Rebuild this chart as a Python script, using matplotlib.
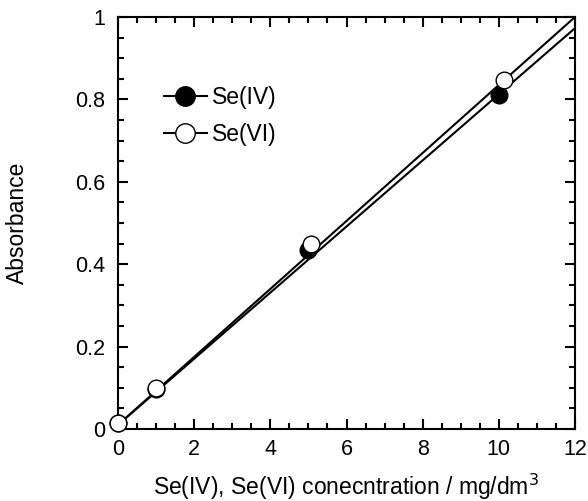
#!/usr/bin/env python3
"""Calibration plot: absorbance vs Se(IV)/Se(VI) concentration."""

import matplotlib
matplotlib.use("Agg")
import matplotlib.pyplot as plt
from matplotlib.ticker import MultipleLocator

plt.rcParams["font.family"] = ["Liberation Sans", "DejaVu Sans"]

# measured points
conc_iv = [0, 1, 5, 10]
abs_iv = [0.015, 0.097, 0.434, 0.81]
conc_vi = [0, 1.01, 5.06, 10.13]
abs_vi = [0.015, 0.099, 0.449, 0.847]

# regression lines (end points)
fit_x = [0, 12]
fit_iv = [0.01, 0.973]
fit_vi = [0.01, 1.0]

FS = 16.5       # axis labels / legend
FS_TICK = 15.5  # tick labels


def main():
    fig = plt.figure(figsize=(5.88, 5.01), dpi=100)
    ax = fig.add_axes([118 / 588, 72 / 501, 457 / 588, 412 / 501])

    ax.plot(fit_x, fit_iv, color="black", lw=1.5, zorder=2)
    ax.plot(fit_x, fit_vi, color="black", lw=1.5, zorder=2)
    ax.plot(conc_iv, abs_iv, "o", ms=12, mfc="black", mec="black",
            mew=1, zorder=3, clip_on=False)
    ax.plot(conc_vi, abs_vi, "o", ms=12, mfc="white", mec="black",
            mew=1, zorder=4, clip_on=False)

    # legend entries: marker with short line through it
    h_iv, = ax.plot([], [], "-o", color="black", lw=1.5, ms=14,
                    mfc="black", mec="black", mew=1)
    h_vi, = ax.plot([], [], "-o", color="black", lw=1.5, ms=14,
                    mfc="white", mec="black", mew=1)
    ax.legend([h_iv, h_vi], ["Se(IV)", "Se(VI)"], loc="upper left",
              bbox_to_anchor=(0.1, 0.832), frameon=False, fontsize=FS,
              handlelength=1.9, handletextpad=0.2, labelspacing=0.62,
              borderpad=0, borderaxespad=0)

    ax.set_xlim(0, 12)
    ax.set_ylim(0, 1)
    ax.xaxis.set_major_locator(MultipleLocator(2))
    ax.xaxis.set_minor_locator(MultipleLocator(0.5))
    ax.yaxis.set_major_locator(MultipleLocator(0.2))
    ax.yaxis.set_minor_locator(MultipleLocator(0.05))
    ax.set_xticks([0, 2, 4, 6, 8, 10, 12])
    ax.set_xticklabels(["0", "2", "4", "6", "8", "10", "12"])
    ax.set_yticks([0, 0.2, 0.4, 0.6, 0.8, 1.0])
    ax.set_yticklabels(["0", "0.2", "0.4", "0.6", "0.8", "1"])

    ax.tick_params(which="both", direction="in", top=True, right=True,
                   width=1.5, labelsize=FS_TICK)
    ax.tick_params(which="major", length=7)
    ax.tick_params(axis="x", which="major", pad=7.5)
    ax.tick_params(axis="y", which="major", pad=9)
    ax.tick_params(which="minor", length=4)
    for sp in ax.spines.values():
        sp.set_linewidth(1.5)

    ax.set_xlabel("Se(IV), Se(VI) conecntration / mg/dm$^3$", fontsize=FS)
    ax.xaxis.set_label_coords(0.5, -0.103)
    ax.set_ylabel("Absorbance", fontsize=FS)
    ax.yaxis.set_label_coords(-0.195, 0.5)

    fig.savefig("out.png", dpi=100)


if __name__ == "__main__":
    main()
